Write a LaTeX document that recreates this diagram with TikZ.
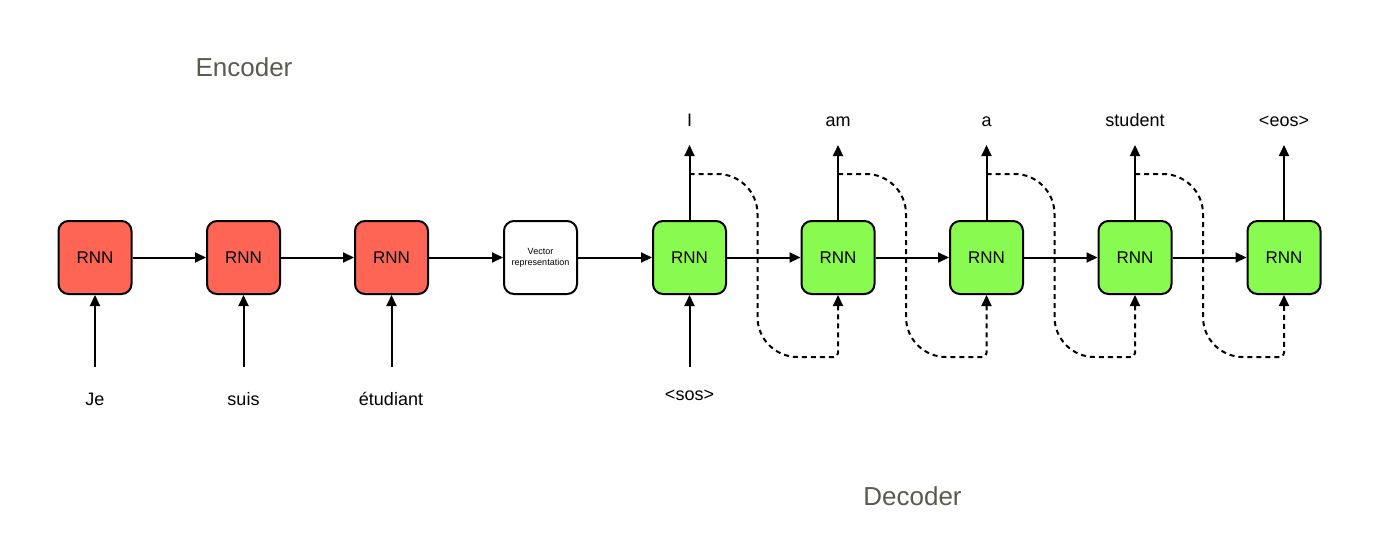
\documentclass[tikz,border=0pt]{standalone}
\usepackage{fontspec}
\setmainfont{Liberation Sans}
\usetikzlibrary{arrows.meta}
\definecolor{encred}{RGB}{254,101,84}
\definecolor{decgreen}{RGB}{137,250,80}
\definecolor{titlegray}{RGB}{90,90,80}
\tikzset{
  rnnbox/.style={draw=black, line width=2pt, rounded corners=10pt, minimum width=73pt, minimum height=73pt, inner sep=0pt, font=\fontsize{17}{19}\selectfont},
  encbox/.style={rnnbox, fill=encred},
  decbox/.style={rnnbox, fill=decgreen},
  vecbox/.style={rnnbox, fill=white, align=center, font=\fontsize{9}{11}\selectfont},
  word/.style={font=\fontsize{18}{20}\selectfont, inner sep=0pt, anchor=base},
  title/.style={font=\fontsize{26}{30}\selectfont, text=titlegray, inner sep=0pt},
  arr/.style={line width=2pt, -{Triangle[length=11pt,width=10pt]}},
  feed/.style={line width=2pt, dash pattern=on 5pt off 4pt, -{Triangle[length=11pt,width=10pt]}},
}
\begin{document}
\begin{tikzpicture}[x=1pt,y=-1pt]
\useasboundingbox (0,0) rectangle (1400,552);
% encoder boxes
\node[encbox] (e1) at (95,257.5) {RNN};
\node[encbox] (e2) at (243.5,257.5) {RNN};
\node[encbox] (e3) at (391.5,257.5) {RNN};
\node[vecbox] (v) at (540.5,257.5) {Vector\\representation};
% decoder boxes
\node[decbox] (d1) at (689.5,257.5) {RNN};
\node[decbox] (d2) at (838,257.5) {RNN};
\node[decbox] (d3) at (986.5,257.5) {RNN};
\node[decbox] (d4) at (1135,257.5) {RNN};
\node[decbox] (d5) at (1284,257.5) {RNN};
% horizontal connectors
\draw[arr] (e1) -- (e2);
\draw[arr] (e2) -- (e3);
\draw[arr] (e3) -- (v);
\draw[arr] (v) -- (d1);
\draw[arr] (d1) -- (d2);
\draw[arr] (d2) -- (d3);
\draw[arr] (d3) -- (d4);
\draw[arr] (d4) -- (d5);
% input words
\node[word] (w1) at (95,405) {Je};
\node[word] (w2) at (243.5,405) {suis};
\node[word] (w3) at (391,405) {étudiant};
\node[word] (w4) at (689.5,400) {<sos>};
\coordinate (i1) at (95,367);
\coordinate (i2) at (243.5,367);
\coordinate (i3) at (391.5,367);
\coordinate (i4) at (689.5,367);
\draw[arr] (i1) -- (e1);
\draw[arr] (i2) -- (e2);
\draw[arr] (i3) -- (e3);
\draw[arr] (i4) -- (d1);
% output words
\node[word] (o1) at (689.5,126) {I};
\node[word] (o2) at (838,126) {am};
\node[word] (o3) at (986.5,126) {a};
\node[word] (o4) at (1135,126) {student};
\node[word] (o5) at (1284,126) {<eos>};
\coordinate (t1) at (689.5,145);
\coordinate (t2) at (838,145);
\coordinate (t3) at (986.5,145);
\coordinate (t4) at (1135,145);
\coordinate (t5) at (1284,145);
\draw[arr] (d1) -- (t1);
\draw[arr] (d2) -- (t2);
\draw[arr] (d3) -- (t3);
\draw[arr] (d4) -- (t4);
\draw[arr] (d5) -- (t5);
% feedback dashed connectors
\foreach \a/\b/\xa/\xb in {1/2/689.5/838, 2/3/838/986.5, 3/4/986.5/1135, 4/5/1135/1284}{
  \coordinate (s\a) at (\xa,174);
  \coordinate (p\a) at (\xa+68,174);
  \coordinate (q\a) at (\xa+68,357);
  \coordinate (r\a) at (\xb,357);
  \draw[feed] (s\a) [rounded corners=40pt] -- (p\a) -- (q\a) [rounded corners=4pt] -- (r\a) -- (d\b.south);
}
% titles
\node[title] (enc) at (244,67) {Encoder};
\node[title] (dec) at (912.5,496) {Decoder};
\end{tikzpicture}
\end{document}
